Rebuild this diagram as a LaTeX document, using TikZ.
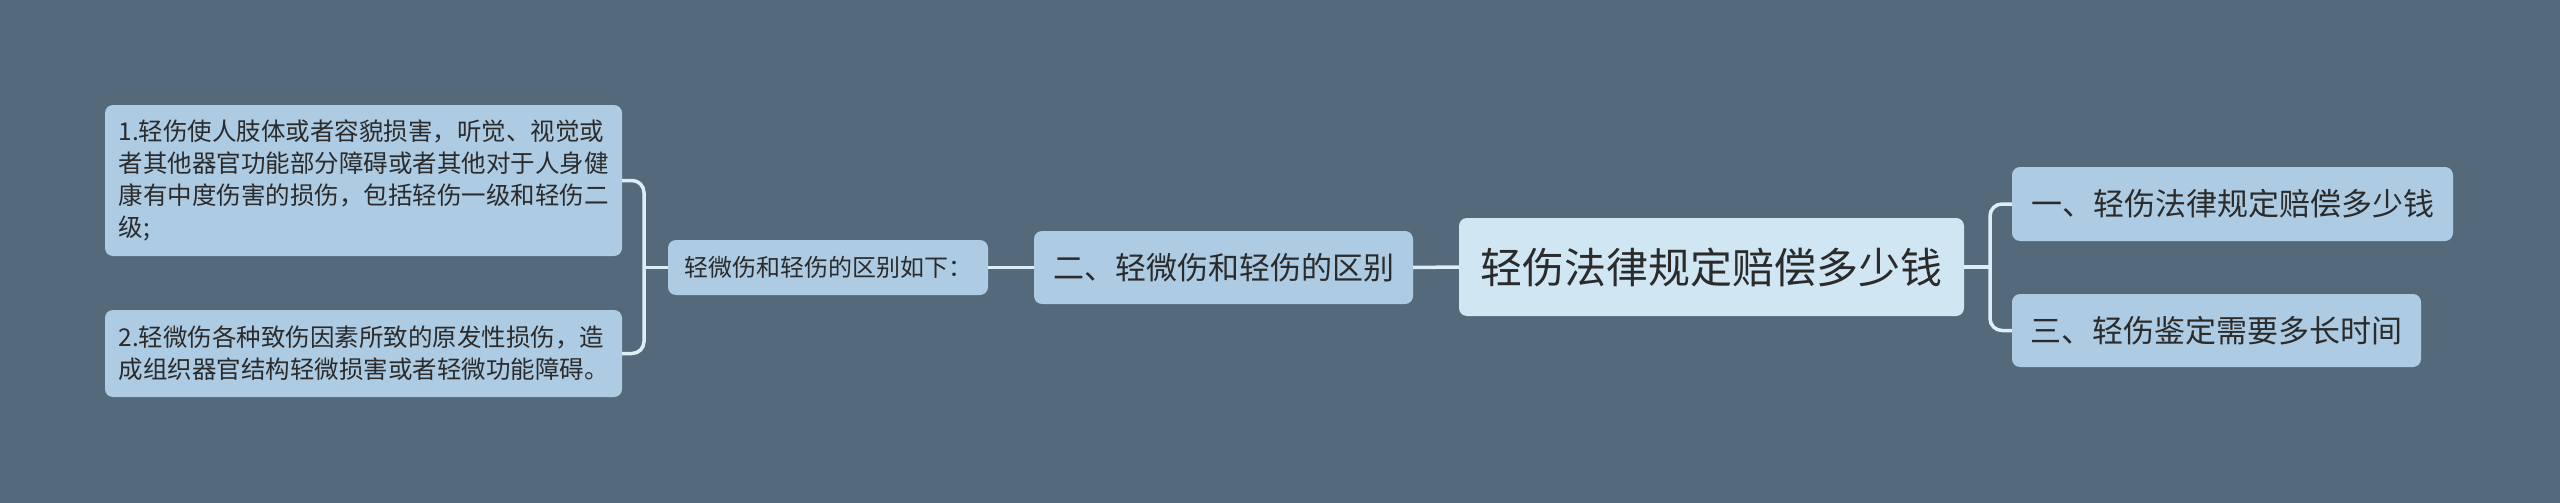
\documentclass[tikz,border=0pt]{standalone}
\usepackage{fontspec}
\setmainfont{Noto Sans CJK SC}
\definecolor{bgc}{HTML}{546A7A}
\definecolor{leafc}{HTML}{ADCBE3}
\definecolor{rootc}{HTML}{D0E6F3}
\definecolor{linec}{HTML}{DCEFF8}
\definecolor{txtc}{HTML}{2B2B2B}
\tikzset{
  box/.style={rounded corners=8pt, fill=leafc, inner sep=0pt, text=txtc, anchor=center},
  rootbox/.style={box, fill=rootc},
  conn/.style={draw=linec, line width=3.5pt, rounded corners=12pt}
}
\begin{document}
\begin{tikzpicture}[x=1pt,y=-1pt]
\fill[bgc] (0,0) rectangle (2560,503);
\useasboundingbox (0,0) rectangle (2560,503);
\node[box, minimum width=517pt, minimum height=151pt, align=left, font=\fontsize{24.5}{31.7}\selectfont] (b1) at (363.5,180.5)
  {1.轻伤使人肢体或者容貌损害，听觉、视觉或\\者其他器官功能部分障碍或者其他对于人身健\\康有中度伤害的损伤，包括轻伤一级和轻伤二\\级;};
\node[box, minimum width=517pt, minimum height=87pt, align=left, font=\fontsize{24.5}{31.7}\selectfont] (b2) at (363.5,353.5)
  {2.轻微伤各种致伤因素所致的原发性损伤，造\\成组织器官结构轻微损害或者轻微功能障碍。};
\node[box, minimum width=320pt, minimum height=55pt, font=\fontsize{24}{28}\selectfont] (mid) at (828,267.5) {轻微伤和轻伤的区别如下：};
\node[box, minimum width=379pt, minimum height=73pt, font=\fontsize{31}{36}\selectfont] (two) at (1223.5,267.5) {二、轻微伤和轻伤的区别};
\node[rootbox, minimum width=505pt, minimum height=98pt, font=\fontsize{42}{48}\selectfont] (root) at (1711.5,267) {轻伤法律规定赔偿多少钱};
\node[box, minimum width=441pt, minimum height=74pt, font=\fontsize{31}{36}\selectfont] (one) at (2232.5,204) {一、轻伤法律规定赔偿多少钱};
\node[box, minimum width=409pt, minimum height=73pt, font=\fontsize{31}{36}\selectfont] (three) at (2216.5,330.5) {三、轻伤鉴定需要多长时间};
\coordinate (lj) at (644,267.5);
\coordinate (rj) at (1990,267);
\draw[conn] (b1.east) -| (lj) |- (b2.east);
\draw[conn] (mid.west) -- (lj);
\draw[conn] (mid.east) -- (two.west);
\draw[conn] (two.east) -- (root.west);
\draw[conn] (root.east) -- (rj);
\draw[conn] (one.west) -| (rj) |- (three.west);
\end{tikzpicture}
\end{document}
